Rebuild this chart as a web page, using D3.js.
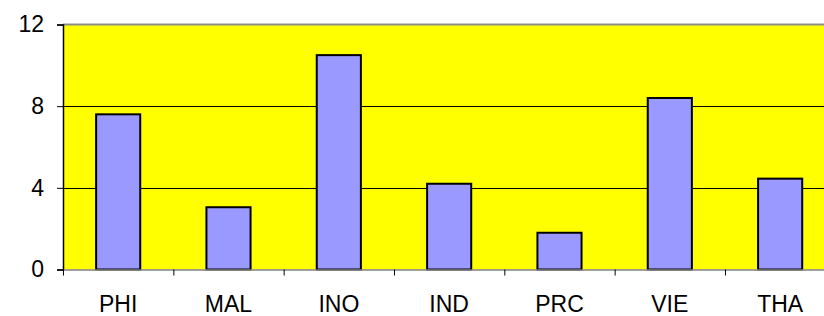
<!DOCTYPE html>
<html>
<head>
<meta charset="utf-8">
<script src="https://cdn.jsdelivr.net/npm/d3@7"></script>
<style>
  html, body { margin: 0; padding: 0; background: #fff; }
  svg { display: block; }
  text { font-family: "Liberation Sans", Arial, sans-serif; fill: #000; }
</style>
</head>
<body>
<svg id="chart" width="824" height="316"></svg>
<script>
const categories = ["PHI", "MAL", "INO", "IND", "PRC", "VIE", "THA"];
const values = [7.6, 3.05, 10.5, 4.2, 1.8, 8.4, 4.45];
const yTicks = [0, 4, 8, 12];

(function () {
const svg = d3.select("#chart");
const mLeft = 63, mTop = 24.5, mBottom = 269.5;
const bandW = 110.33;
const mRight = mLeft + bandW * categories.length;

const x = d3.scaleBand().domain(categories).range([mLeft, mRight]).paddingInner(0).paddingOuter(0);
const y = d3.scaleLinear().domain([0, 12]).range([mBottom, mTop]);

// plot background
svg.append("rect")
  .attr("x", mLeft).attr("y", mTop)
  .attr("width", mRight - mLeft).attr("height", mBottom - mTop)
  .attr("fill", "#FFFF00");

// gridlines
svg.append("g").selectAll("line")
  .data(yTicks.filter(d => d > 0 && d < 12))
  .join("line")
  .attr("x1", mLeft).attr("x2", mRight)
  .attr("y1", d => Math.round(y(d)) + 0.5).attr("y2", d => Math.round(y(d)) + 0.5)
  .attr("stroke", "#000").attr("stroke-width", 1);

// top border
svg.append("line")
  .attr("x1", mLeft).attr("x2", mRight)
  .attr("y1", y(12)).attr("y2", y(12))
  .attr("stroke", "#8c8c8c").attr("stroke-width", 2);

// bars
const bw = bandW * 0.4;
svg.append("g").selectAll("rect")
  .data(categories.map((c, i) => ({c, v: values[i]})))
  .join("rect")
  .attr("x", d => x(d.c) + (bandW - bw) / 2)
  .attr("y", d => y(d.v))
  .attr("width", bw)
  .attr("height", d => y(0) - y(d.v))
  .attr("fill", "#9999FF")
  .attr("stroke", "#000")
  .attr("stroke-width", 2);

// y axis
const yAxis = d3.axisLeft(y).tickValues(yTicks).tickSize(6).tickPadding(13).tickFormat(d3.format("d"));
const gy = svg.append("g").attr("transform", `translate(${mLeft},0)`).call(yAxis);
gy.select(".domain").attr("stroke", "#000").attr("stroke-width", 1.5);
gy.selectAll(".tick line").attr("stroke", "#000");
gy.selectAll(".tick text").attr("font-size", 23).attr("font-family", "Liberation Sans, Arial, sans-serif");

// x axis
const xAxis = d3.axisBottom(x).tickSize(0).tickPadding(26);
const gx = svg.append("g").attr("transform", `translate(0,${mBottom})`).call(xAxis);
gx.select(".domain").attr("stroke", "#808080").attr("stroke-width", 1.5);
gx.selectAll(".tick text").attr("font-size", 23).attr("font-family", "Liberation Sans, Arial, sans-serif");

// x boundary ticks
svg.append("g").selectAll("line")
  .data(categories)
  .join("line")
  .attr("x1", d => x(d) + 0.5).attr("x2", d => x(d) + 0.5)
  .attr("y1", mBottom).attr("y2", mBottom + 6)
  .attr("stroke", "#000").attr("stroke-width", 1);
})();
</script>
</body>
</html>
